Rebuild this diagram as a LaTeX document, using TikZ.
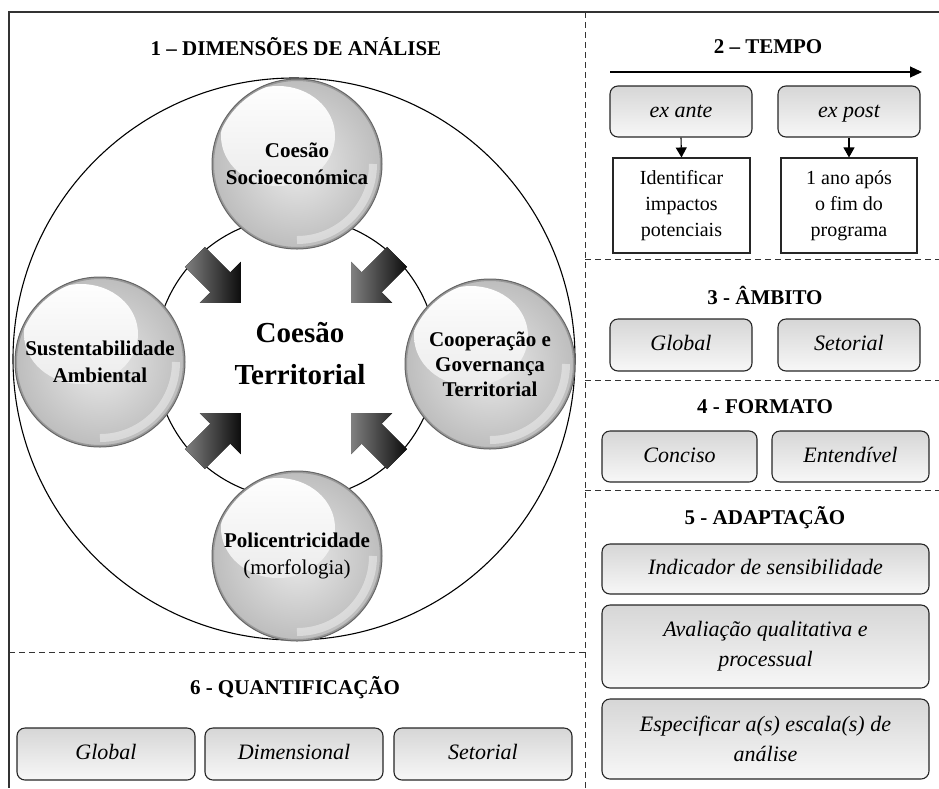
\documentclass[tikz,border=0pt]{standalone}
\usepackage{fontspec}
\setmainfont{Liberation Serif}
\usetikzlibrary{arrows.meta,calc}

\begin{document}
\begin{tikzpicture}[x=1pt,y=-1pt,
  frame/.style={draw=black!80, line width=1.3pt},
  divider/.style={draw=black!80, line width=1pt, dash pattern=on 6pt off 4pt},
  heading/.style={font=\fontsize{21}{24}\selectfont\bfseries, inner sep=0pt},
  optbox/.style={draw=black!85, line width=1.1pt, rounded corners=8pt,
    top color=gray!32, bottom color=gray!6,
    font=\fontsize{22}{30}\selectfont\itshape, align=center, inner sep=0pt},
  oneline/.style={text height=16pt, text depth=5pt},
  notebox/.style={draw=black!85, line width=1.1pt, fill=white,
    font=\fontsize{20}{26}\selectfont, align=center, inner sep=0pt},
  flow/.style={line width=1.1pt, -{Triangle[length=10pt,width=11pt]}},
  ring/.style={circle, draw=black, line width=1.1pt, inner sep=0pt},
  bigarrow/.style={left color=black!50, right color=black!95},
  ball/.style={circle, inner sep=0pt, minimum size=170pt, draw=black!60, line width=1pt,
    inner color=gray!16, outer color=gray!52,
    font=\fontsize{21}{27}\selectfont\bfseries, align=center,
    path picture={
      \shade[top color=white, middle color=white, bottom color=gray!24]
        ([shift={(-19,-28)}]path picture bounding box.center)
        ellipse [x radius=57, y radius=50];
      \draw[white, opacity=.4, line width=8pt]
        (path picture bounding box.center) ++(0:76) arc[start angle=0, end angle=90, radius=76];
      \draw[black!40, line width=2pt]
        (path picture bounding box.center) circle[radius=84];
    }},
]
\useasboundingbox (0,0) rectangle (939,788);

% outer frame and section dividers
\coordinate (ftr) at (939,12);
\coordinate (ftl) at (9,12);
\coordinate (fbl) at (9,788);
\draw[frame] (ftr) -- (ftl) -- (fbl);
\coordinate (vtop) at (585,12);
\coordinate (vbot) at (585,788);
\draw[divider] (vtop) -- (vbot);
\coordinate (d1a) at (585,259); \coordinate (d1b) at (939,259);
\coordinate (d2a) at (585,380); \coordinate (d2b) at (939,380);
\coordinate (d3a) at (585,490); \coordinate (d3b) at (939,490);
\coordinate (d4a) at (9,652);   \coordinate (d4b) at (585,652);
\draw[divider] (d1a) -- (d1b);
\draw[divider] (d2a) -- (d2b);
\draw[divider] (d3a) -- (d3b);
\draw[divider] (d4a) -- (d4b);

% 1 - dimensions of analysis
\node[heading] (h1) at (296,47) {1 – DIMENSÕES DE ANÁLISE};
\node[ring, minimum size=562pt] (outer) at (294,359) {};
\node[ring, minimum size=282pt] (inner) at (296,358) {};
\coordinate (C) at (296,358);
\foreach \a [evaluate=\a as \b using \a+90, evaluate=\a as \c using \a-90] in {45,135,225,315}{
  \fill[bigarrow]
    ($(C)+(\a:143)+(\b:14)$) -- ($(C)+(\a:107)+(\b:14)$) -- ($(C)+(\a:107)+(\b:29)$)
    -- ($(C)+(\a:78)$)
    -- ($(C)+(\a:107)+(\c:29)$) -- ($(C)+(\a:107)+(\c:14)$) -- ($(C)+(\a:143)+(\c:14)$) -- cycle;
}
\node[ball] (socio) at (297,164) {Coesão\\Socioeconómica};
\node[ball] (amb) at (100,362) {Sustentabilidade\\Ambiental};
\node[ball, font=\fontsize{21}{25}\selectfont\bfseries] (coop) at (490,364) {Cooperação e\\Governança\\Territorial};
\node[ball] (poli) at (297,556) {Policentricidade\\{\mdseries(morfologia)}};
\node[font=\fontsize{29}{42}\selectfont\bfseries, align=center] (core) at (300,354) {Coesão\\Territorial};

% 2 - time
\node[heading] (h2) at (768,47) {2 – TEMPO};
\coordinate (t0) at (610,72);
\coordinate (t1) at (922,72);
\draw[line width=1.1pt, -{Triangle[length=12pt,width=11pt]}] (t0) -- (t1);
\node[optbox, oneline, minimum width=142pt, minimum height=51pt] (ante) at (681,111.5) {ex ante};
\node[optbox, oneline, minimum width=142pt, minimum height=51pt] (post) at (849,111.5) {ex post};
\node[notebox, minimum width=137pt, minimum height=95pt] (imp) at (681.5,205.5) {Identificar\\impactos\\potenciais};
\node[notebox, minimum width=136pt, minimum height=95pt] (fim) at (849,205.5) {1 ano após\\o fim do\\programa};
\draw[flow] (ante.south) -- (imp.north);
\draw[flow] (post.south) -- (fim.north);

% 3 - scope
\node[heading] (h3) at (765,295) {3 - ÂMBITO};
\node[optbox, oneline, minimum width=142pt, minimum height=52pt] (sglob) at (681,345) {Global};
\node[optbox, oneline, minimum width=142pt, minimum height=52pt] (ssect) at (849,345) {Setorial};

% 4 - format
\node[heading] (h4) at (765,407) {4 - FORMATO};
\node[optbox, oneline, minimum width=155pt, minimum height=51pt] (conc) at (679.5,456.5) {Conciso};
\node[optbox, oneline, minimum width=157pt, minimum height=51pt] (ente) at (850.5,456.5) {Entendível};

% 5 - adaptation
\node[heading] (h5) at (765,518) {5 - ADAPTAÇÃO};
\node[optbox, oneline, minimum width=327pt, minimum height=50pt] (sens) at (765.5,569) {Indicador de sensibilidade};
\node[optbox, minimum width=327pt, minimum height=83pt] (qual) at (765.5,646.5) {Avaliação qualitativa e\\processual};
\node[optbox, minimum width=327pt, minimum height=80pt] (esc) at (765.5,739) {Especificar a(s) escala(s) de\\análise};

% 6 - quantification
\node[heading] (h6) at (295,688) {6 - QUANTIFICAÇÃO};
\node[optbox, oneline, minimum width=178pt, minimum height=52pt] (qglob) at (106,754) {Global};
\node[optbox, oneline, minimum width=178pt, minimum height=52pt] (qdim) at (294,754) {Dimensional};
\node[optbox, oneline, minimum width=178pt, minimum height=52pt] (qsect) at (483,754) {Setorial};
\end{tikzpicture}
\end{document}
